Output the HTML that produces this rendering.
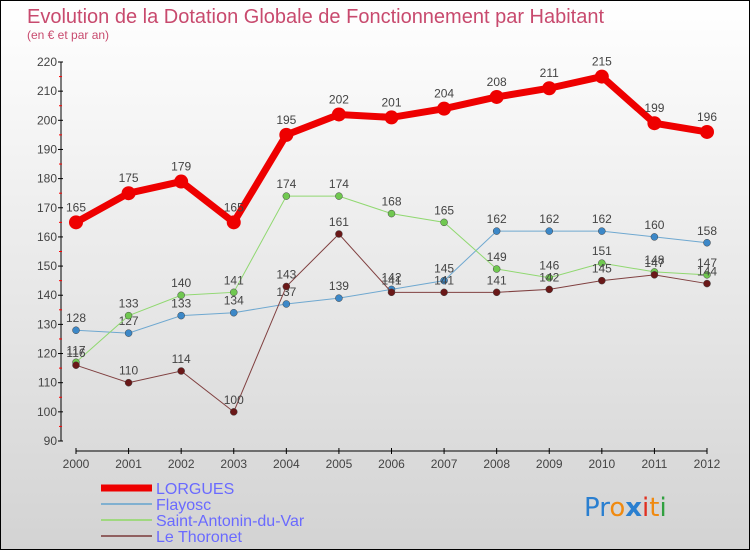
<!DOCTYPE html>
<html><head><meta charset="utf-8"><style>
body{margin:0}
#c{width:748px;height:548px;border:1px solid #000;background:linear-gradient(#ffffff,#d3d3d3);position:relative;overflow:hidden;font-family:"Liberation Sans",sans-serif}
</style></head><body>
<div id="c">
<svg id="s" width="748" height="548" font-family="'Liberation Sans',sans-serif">
<text x="26" y="22" font-size="20" fill="#c84a6e">Evolution de la Dotation Globale de Fonctionnement par Habitant</text>
<text x="26" y="38" font-size="12" fill="#c84a6e">(en € et par an)</text>
<g id="axes"></g><g id="series"></g><g id="legend"></g>
<g font-size="26" font-family="'DejaVu Sans',sans-serif">
<text x="583" y="515"><tspan fill="#2a7fd0">Pr</tspan><tspan fill="#f08a10">o</tspan><tspan fill="#2a7fd0" font-weight="bold">x</tspan><tspan fill="#e03020">i</tspan><tspan fill="#f08a10">t</tspan><tspan fill="#30a040">i</tspan></text>
</g>
</svg>
</div>
<script>
const years=["2000","2001","2002","2003","2004","2005","2006","2007","2008","2009","2010","2011","2012"];
const yTicks=[90,100,110,120,130,140,150,160,170,180,190,200,210,220];
const lorgues=[165,175,179,165,195,202,201,204,208,211,215,199,196];
const flayosc=[128,127,133,134,137,139,142,145,162,162,162,160,158];
const saintAntonin=[117,133,140,141,174,174,168,165,149,146,151,148,147];
const thoronet=[116,110,114,100,143,161,141,141,141,142,145,147,144];
const NS="http://www.w3.org/2000/svg";
function X(i){return 75+i*(706-75)/12;}
function Y(v){return 440-(v-90)*(440-61)/130;}
function el(t,a,p){const e=document.createElementNS(NS,t);for(const k in a)e.setAttribute(k,a[k]);p.appendChild(e);return e;}
const ax=document.getElementById('axes');
let e=el('line',{x1:60,y1:Y(220),x2:60,y2:Y(90),stroke:'#000','stroke-width':1},ax);


yTicks.forEach(v=>{
 el('line',{x1:57,x2:62,y1:Y(v),y2:Y(v),stroke:'#000'},ax);
 if(v<220)el('line',{x1:58,x2:61,y1:Y(v+5),y2:Y(v+5),stroke:'#f00'},ax);
 const t=el('text',{x:56,y:Y(v)+4,'font-size':12,fill:'#444','text-anchor':'end'},ax);t.textContent=v;
 
 
});
e=el('line',{x1:75,y1:450,x2:706,y2:450,stroke:'#000'},ax);


years.forEach((y,i)=>{
 el('line',{x1:X(i),x2:X(i),y1:447,y2:453,stroke:'#000'},ax);
 const t=el('text',{x:X(i),y:467,'font-size':12,fill:'#444','text-anchor':'middle'},ax);t.textContent=y;
 
 
});
const sg=document.getElementById('series');
const S=[
 {n:'Flayosc',d:flayosc,c:'#6fa8d0',f:'#3c88c8',w:1,r:3.5},
 {n:'Saint-Antonin-du-Var',d:saintAntonin,c:'#90d870',f:'#70c850',w:1,r:3.5},
 {n:'Le Thoronet',d:thoronet,c:'#804040',f:'#6a1818',w:1,r:3.5},
 {n:'LORGUES',d:lorgues,c:'#ee0000',f:'#ee0000',w:7,r:7}];
S.forEach(s=>{
 const g=el('g',{},sg);
 
 
 el('polyline',{points:s.d.map((v,i)=>X(i)+','+Y(v)).join(' '),fill:'none',stroke:s.c,'stroke-width':s.w},g);
 s.d.forEach((v,i)=>{
  const c=el('circle',{cx:X(i),cy:Y(v),r:s.r,fill:s.f,stroke:s.w>1?'none':'#444','stroke-width':0.5},g);
  
  
  const t=el('text',{x:X(i),y:Y(v)-(s.w>1?11:8),'font-size':12,fill:'#444','text-anchor':'middle'},g);t.textContent=v;
  
  
 });
});
const lg=document.getElementById('legend');
const L=[{n:'LORGUES',c:'#ee0000',w:7,y:492},{n:'Flayosc',c:'#80b0d0',w:2,y:508},{n:'Saint-Antonin-du-Var',c:'#a0d880',w:2,y:524},{n:'Le Thoronet',c:'#906060',w:2,y:540}];
L.forEach(l=>{
 const g=el('g',{},lg);
 
 
 el('line',{x1:100,x2:151,y1:l.y-5,y2:l.y-5,stroke:l.c,'stroke-width':l.w},g);
 const t=el('text',{x:155,y:l.y+1,'font-size':16,fill:'#6a6aff'},g);t.textContent=l.n;
});
</script>
</body></html>
